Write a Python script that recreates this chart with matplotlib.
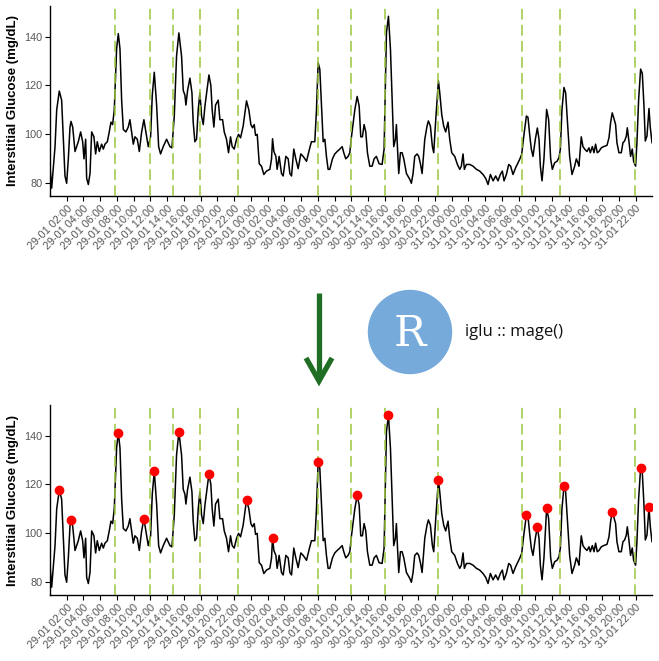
import numpy as np
import pandas as pd
import matplotlib
matplotlib.use("Agg")
import matplotlib.pyplot as plt
import matplotlib.dates as mdates
from matplotlib.patches import Circle

# hours after 29-01 00:00 and glucose (mg/dL)
hours = [0.00, 0.20, 0.60, 0.80, 1.11, 1.39, 1.59, 1.79, 1.99, 2.19, 2.39, 2.51, 2.71, 2.99,
         3.38, 3.66, 3.90, 4.06, 4.26, 4.38, 4.58, 4.78, 4.98, 5.25, 5.45, 5.65, 5.89, 6.17,
         6.37, 6.57, 6.85, 7.08, 7.28, 7.48, 7.68, 7.96, 8.16, 8.36, 8.56, 8.76, 9.07, 9.35,
         9.55, 9.75, 9.95, 10.15, 10.43, 10.67, 10.95, 11.22, 11.46, 11.74, 12.02, 12.22,
         12.46, 12.74, 12.98, 13.21, 13.53, 13.93, 14.33, 14.57, 14.85, 15.12, 15.40, 15.72,
         15.92, 16.12, 16.24, 16.44, 16.72, 16.96, 17.11, 17.31, 17.51, 17.71, 17.91, 18.11,
         18.31, 18.51, 18.99, 19.22, 19.38, 19.58, 19.78, 20.10, 20.30, 20.62, 20.82, 21.09,
         21.33, 21.57, 21.77, 22.01, 22.29, 22.53, 22.77, 23.08, 23.48, 23.76, 24.00, 24.20,
         24.40, 24.56, 24.76, 25.00, 25.27, 25.55, 25.87, 26.27, 26.47, 26.59, 26.75, 26.99,
         27.14, 27.38, 27.66, 27.86, 28.18, 28.46, 28.66, 28.86, 29.13, 29.37, 29.65, 29.97,
         30.25, 30.65, 31.04, 31.24, 31.64, 31.84, 32.04, 32.24, 32.44, 32.64, 32.84, 33.03,
         33.23, 33.43, 33.75, 34.03, 34.31, 34.63, 34.91, 35.10, 35.34, 35.62, 35.82, 36.02,
         36.42, 36.70, 36.94, 37.13, 37.33, 37.53, 37.73, 37.93, 38.21, 38.49, 38.73, 39.00,
         39.32, 39.68, 39.92, 40.20, 40.44, 40.68, 40.88, 41.07, 41.27, 41.39, 41.51, 41.67,
         41.87, 42.07, 42.27, 42.43, 42.59, 42.99, 43.18, 43.38, 43.58, 43.86, 44.06, 44.26,
         44.46, 44.78, 45.05, 45.21, 45.45, 45.69, 45.85, 46.09, 46.25, 46.41, 46.57, 46.81,
         47.04, 47.28, 47.56, 47.76, 48.00, 48.36, 48.68, 48.96, 49.15, 49.35, 49.51, 49.75,
         50.15, 50.55, 50.95, 51.34, 51.74, 52.06, 52.34, 52.62, 52.94, 53.25, 53.53, 53.81,
         54.05, 54.25, 54.53, 54.81, 55.04, 55.32, 55.64, 55.92, 56.12, 56.36, 56.60, 56.92,
         57.11, 57.31, 57.51, 57.71, 57.99, 58.23, 58.43, 58.59, 58.79, 59.02, 59.34, 59.58,
         59.82, 60.02, 60.30, 60.58, 60.82, 60.98, 61.17, 61.41, 61.61, 61.81, 62.09, 62.37,
         62.69, 62.89, 63.08, 63.20, 63.36, 63.48, 63.68, 63.88, 64.16, 64.40, 64.56, 64.80,
         65.00, 65.19, 65.39, 65.59, 65.87, 66.15, 66.55, 66.79, 66.99, 67.18, 67.38, 67.58,
         67.74, 67.98, 68.26, 68.46, 68.66, 68.86, 68.98, 69.17, 69.37, 69.57, 69.73, 69.97,
         70.13, 70.33, 70.57, 70.77, 70.97, 71.13, 71.33, 71.57, 71.73, 71.93]
glucose = [87, 78, 95, 110, 117.7, 114, 98, 83, 80, 90, 103, 105.3, 103, 93,
           97, 101, 97, 90, 98, 82, 79.5, 84, 101, 99, 92, 97, 93, 96,
           94, 96, 97, 101, 105, 104, 110, 135, 141.2, 135, 114, 102, 101, 103,
           106, 101, 96, 99, 98, 93, 101, 106, 101, 95, 99, 116,
           125.4, 112, 95, 92, 95, 98, 95, 94.5, 107.5, 132, 141.5, 132,
           118, 116, 112, 118, 123, 117, 105, 97, 98, 110, 117, 107.5,
           104, 111.5, 124.3, 120, 110, 103, 112, 114, 106, 106, 101, 98,
           92.5, 99, 95, 94, 98, 100, 98.6, 103.4, 113.7, 110, 104, 102.7,
           104, 99.6, 100, 88, 87, 83.6, 85, 85.7, 90, 98.2, 93, 91,
           85.7, 91, 84, 83, 91, 90, 84, 83, 94, 90, 86, 92,
           91, 89, 94.5, 97, 97, 110, 129.3, 126.6, 111.6, 97, 98, 91,
           85.7, 85.7, 90, 92, 93, 94, 95, 92.5, 90, 91, 92.5, 99,
           110, 115.5, 111.6, 99, 99, 104, 101, 92.5, 87, 87, 90, 91,
           88, 87.7, 94, 141.6, 148.3, 134.8, 114, 95, 98, 104, 95, 84,
           92.5, 92.5, 90, 87, 84, 81.6, 80, 84, 91, 92, 91, 88,
           84, 98, 103.4, 105.5, 103.4, 95, 92.5, 106, 114, 121.9, 117, 108,
           103.4, 101, 105, 98, 92.5, 91, 87.7, 85.7, 87, 92, 85.7, 87.7,
           87.7, 87, 85.7, 85, 83.6, 82, 79.5, 83.6, 81, 83, 81, 83.6,
           85, 81, 83.6, 87.7, 87, 83.6, 86.4, 88.4, 89.8, 91.8, 99, 107.5,
           107, 100, 94, 91, 98, 102.6, 98, 87, 81, 90, 110.2, 106,
           90, 85.7, 88.4, 89, 90.5, 94, 110, 119.2, 117, 106, 91, 83.6,
           87, 90, 88.4, 87, 94, 99, 95, 94, 93, 94.5, 92.5, 95,
           92.5, 96, 92.5, 93, 94.5, 95, 95.5, 98.6, 105, 108.8, 106.5, 104,
           96.6, 92.5, 92.5, 96.6, 97.3, 99.3, 102.7, 97.3, 91, 94, 89, 87,
           96.6, 114, 126.7, 125, 111.6, 97.3, 99.3, 110.6, 102.7, 96.6]

# peaks found by iglu::mage (hours)
peak_hours = [1.11, 2.51, 8.16, 11.22, 12.46, 15.40, 18.99, 23.48, 26.59, 32.04,
              36.70, 40.44, 46.41, 56.92, 58.23, 59.34, 61.41, 67.18, 70.57, 71.57]

# meal markers
meals = ["2024-01-29 07:45", "2024-01-29 12:00", "2024-01-29 14:40", "2024-01-29 17:55",
         "2024-01-29 22:25", "2024-01-30 08:00", "2024-01-30 11:55", "2024-01-30 16:00",
         "2024-01-30 22:25", "2024-01-31 08:25", "2024-01-31 12:55", "2024-01-31 21:55"]

start = pd.Timestamp("2024-01-29 00:00")
hours = np.array(hours)
glucose = np.array(glucose)
t = start + pd.to_timedelta(hours, unit="h")
idx = np.abs(hours[:, None] - np.array(peak_hours)[None, :]).argmin(axis=0)
meal_t = pd.to_datetime(meals)
ticks = pd.date_range("2024-01-29 02:00", "2024-01-31 22:00", freq="2h")

W, H = 659, 661
fig = plt.figure(figsize=(W / 100, H / 100), dpi=100)
plt.rcParams["font.family"] = ["Liberation Sans", "DejaVu Sans"]

grey = "#555555"
vcol = "#9BC53D"


def panel(ax, peaks):
    ax.plot(t, glucose, color="black", lw=1.1, zorder=2)
    for m in meal_t:
        ax.axvline(m, color=vcol, lw=1.1, ls=(0, (7, 3.5)), zorder=3)
    if peaks:
        ax.plot(t[idx], glucose[idx], "o", color="red", ms=6, zorder=4)
    ax.set_xlim(t[0], t[-1])
    ax.set_ylim(74.8, 152.5)
    ax.set_yticks([80, 100, 120, 140])
    ax.set_xticks(ticks)
    ax.xaxis.set_major_formatter(mdates.DateFormatter("%d-%m %H:%M"))
    for s in ["top", "right"]:
        ax.spines[s].set_visible(False)
    ax.spines["left"].set_linewidth(1.0)
    ax.spines["bottom"].set_linewidth(1.0)
    ax.tick_params(length=3.5, width=0.8, labelsize=7.8, labelcolor=grey, pad=2)
    plt.setp(ax.get_xticklabels(), rotation=45, ha="right", va="top",
             rotation_mode="anchor")
    ax.set_ylabel("Interstitial Glucose (mg/dL)", fontsize=9.5, fontweight="bold",
                  labelpad=4)


ax1 = fig.add_axes([50 / W, 1 - 196 / H, 602 / W, 190 / H])
panel(ax1, False)
ax2 = fig.add_axes([50 / W, 1 - 595 / H, 602 / W, 190 / H])
panel(ax2, True)

# middle decoration: arrow, R logo and function name
ax0 = fig.add_axes([0, 0, 1, 1], zorder=-1)
ax0.set_xlim(0, W)
ax0.set_ylim(H, 0)
ax0.axis("off")
green = "#1F6E23"
ax0.plot([319, 319], [293, 378], color=green, lw=3.8, solid_capstyle="butt")
ax0.plot([306, 319, 332], [358, 381, 358], color=green, lw=3.8,
         solid_joinstyle="miter", solid_capstyle="butt")
ax0.add_patch(Circle((410, 332), 41.5, color="#75AADB"))
ax0.text(410, 334, "R", fontsize=31, color="white", family="DejaVu Serif",
         ha="center", va="center")
ax0.text(465, 332, "iglu :: mage()", fontsize=12, family="Open Sans",
         color="#111111", ha="left", va="center")

fig.savefig("out.png", dpi=100)
